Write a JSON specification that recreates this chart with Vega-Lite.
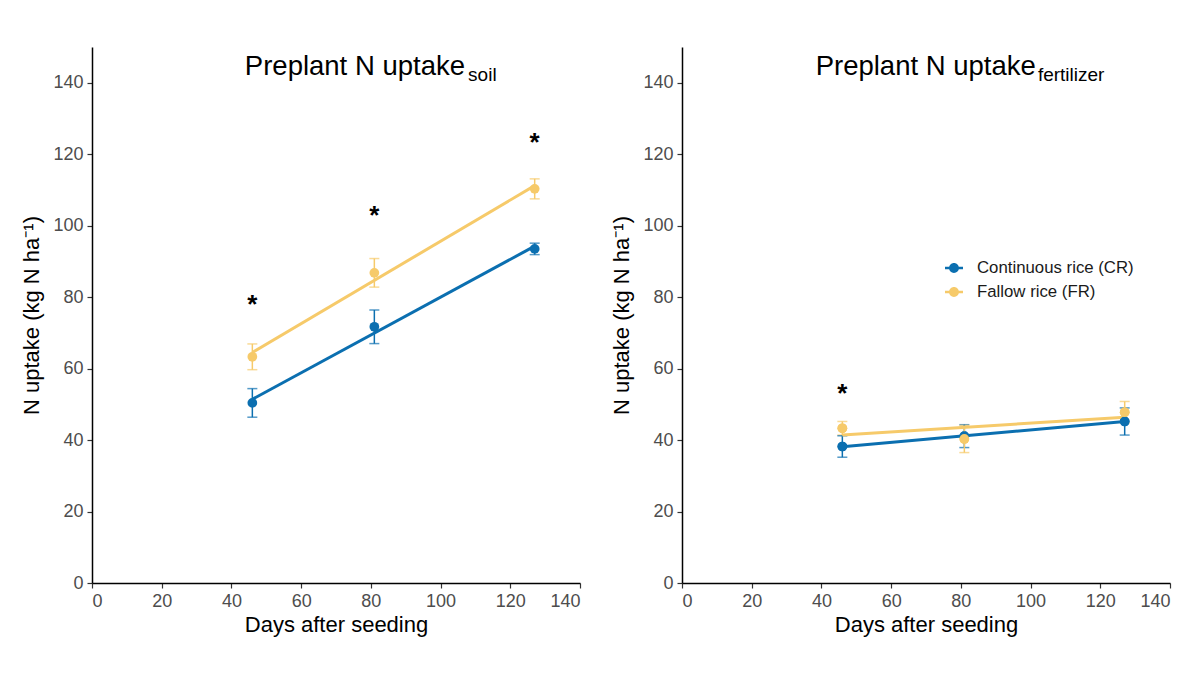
{
  "$schema": "https://vega.github.io/schema/vega-lite/v6.json",
  "background": "white",
  "padding": {"left": 20, "top": 47, "right": 5, "bottom": 5},
  "datasets": {
    "pts": [
      {"panel": "soil", "system": "Continuous rice (CR)", "day": 46, "n": 50.4, "se": 4.0},
      {"panel": "soil", "system": "Continuous rice (CR)", "day": 81, "n": 71.7, "se": 4.7},
      {"panel": "soil", "system": "Continuous rice (CR)", "day": 127, "n": 93.5, "se": 1.6},
      {"panel": "soil", "system": "Fallow rice (FR)", "day": 46, "n": 63.3, "se": 3.6},
      {"panel": "soil", "system": "Fallow rice (FR)", "day": 81, "n": 86.8, "se": 4.0},
      {"panel": "soil", "system": "Fallow rice (FR)", "day": 127, "n": 110.3, "se": 2.8},
      {"panel": "fert", "system": "Continuous rice (CR)", "day": 46, "n": 38.2, "se": 3.0},
      {"panel": "fert", "system": "Continuous rice (CR)", "day": 81, "n": 41.1, "se": 3.2},
      {"panel": "fert", "system": "Continuous rice (CR)", "day": 127, "n": 45.2, "se": 3.8},
      {"panel": "fert", "system": "Fallow rice (FR)", "day": 46, "n": 43.3, "se": 1.9},
      {"panel": "fert", "system": "Fallow rice (FR)", "day": 81, "n": 40.3, "se": 3.8},
      {"panel": "fert", "system": "Fallow rice (FR)", "day": 127, "n": 47.8, "se": 3.0}
    ],
    "stars": [
      {"panel": "soil", "day": 46, "n": 79.8, "label": "*"},
      {"panel": "soil", "day": 81, "n": 104.7, "label": "*"},
      {"panel": "soil", "day": 127, "n": 125.0, "label": "*"},
      {"panel": "fert", "day": 46, "n": 54.9, "label": "*"}
    ]
  },
  "config": {
    "font": "Liberation Sans",
    "view": {"stroke": null},
    "axis": {
      "grid": false,
      "domainColor": "#000000",
      "domainWidth": 1.5,
      "tickColor": "#333333",
      "tickWidth": 1.2,
      "tickSize": 5,
      "labelColor": "#4d4d4d",
      "labelFontSize": 18,
      "labelFont": "Liberation Sans",
      "titleFont": "Liberation Sans",
      "titleFontSize": 22,
      "titleFontWeight": "normal",
      "titleColor": "#000000"
    }
  },
  "spacing": 102,
  "bounds": "flush",
  "resolve": {"scale": {"color": "independent"}, "legend": {"color": "independent"}},
  "hconcat": [
    {
      "width": 488,
      "height": 536,
      "layer": [
        {
          "data": {"name": "pts"},
          "transform": [{"filter": "datum.panel === 'soil'"}],
          "mark": {"type": "errorbar", "ticks": {"size": 10, "thickness": 1.5}, "thickness": 1.5},
          "encoding": {
            "x": {"field": "day", "type": "quantitative", "title": "Days after seeding", "scale": {"domain": [0, 140], "nice": false}, "axis": {"values": [0, 20, 40, 60, 80, 100, 120, 140], "title": "Days after seeding", "titlePadding": 4, "labelPadding": 4}},
            "y": {"field": "n", "type": "quantitative", "title": "N uptake (kg N ha⁻¹)", "scale": {"domain": [0, 150], "nice": false}, "axis": {"values": [0, 20, 40, 60, 80, 100, 120, 140], "title": "N uptake (kg N ha⁻¹)", "titlePadding": 9, "labelPadding": 4}},
            "yError": {"field": "se"},
            "color": {"field": "system", "type": "nominal", "scale": {"domain": ["Continuous rice (CR)", "Fallow rice (FR)"], "range": ["#0b6fb0", "#f6ca6a"]}, "legend": null}
          }
        },
        {
          "data": {"name": "pts"},
          "transform": [
            {"filter": "datum.panel === 'soil'"},
            {"regression": "n", "on": "day", "groupby": ["system"]}
          ],
          "mark": {"type": "line", "strokeWidth": 3},
          "encoding": {
            "x": {"field": "day", "type": "quantitative", "title": "Days after seeding"},
            "y": {"field": "n", "type": "quantitative", "title": "N uptake (kg N ha⁻¹)"},
            "color": {"field": "system", "type": "nominal", "legend": null}
          }
        },
        {
          "data": {"name": "pts"},
          "transform": [{"filter": "datum.panel === 'soil'"}],
          "mark": {"type": "point", "filled": true, "size": 95, "opacity": 1},
          "encoding": {
            "x": {"field": "day", "type": "quantitative", "title": "Days after seeding"},
            "y": {"field": "n", "type": "quantitative", "title": "N uptake (kg N ha⁻¹)"},
            "color": {"field": "system", "type": "nominal", "legend": null}
          }
        },
        {
          "data": {"name": "stars"},
          "transform": [{"filter": "datum.panel === 'soil'"}],
          "mark": {"type": "text", "fontSize": 26, "fontWeight": "bold", "baseline": "alphabetic", "dy": 15, "color": "#000000"},
          "encoding": {
            "x": {"field": "day", "type": "quantitative", "title": "Days after seeding"},
            "y": {"field": "n", "type": "quantitative", "title": "N uptake (kg N ha⁻¹)"},
            "text": {"field": "label"}
          }
        },
        {
          "data": {"values": [{"label": "Preplant N uptake"}]},
          "mark": {"type": "text", "fontSize": 27.5, "align": "right", "baseline": "alphabetic", "color": "#000000"},
          "encoding": {
            "x": {"datum": 107},
            "y": {"datum": 142.1},
            "text": {"field": "label"}
          }
        },
        {
          "data": {"values": [{"label": "soil"}]},
          "mark": {"type": "text", "fontSize": 19, "align": "left", "baseline": "alphabetic", "color": "#000000"},
          "encoding": {
            "x": {"datum": 107.9},
            "y": {"datum": 140.4},
            "text": {"field": "label"}
          }
        }
      ]
    },
    {
      "width": 488,
      "height": 536,
      "layer": [
        {
          "data": {"name": "pts"},
          "transform": [{"filter": "datum.panel === 'fert'"}],
          "mark": {"type": "point", "filled": true, "size": 95, "opacity": 1},
          "encoding": {
            "x": {"field": "day", "type": "quantitative", "title": "Days after seeding", "scale": {"domain": [0, 140], "nice": false}, "axis": {"values": [0, 20, 40, 60, 80, 100, 120, 140], "title": "Days after seeding", "titlePadding": 4, "labelPadding": 4}},
            "y": {"field": "n", "type": "quantitative", "title": "N uptake (kg N ha⁻¹)", "scale": {"domain": [0, 150], "nice": false}, "axis": {"values": [0, 20, 40, 60, 80, 100, 120, 140], "title": "N uptake (kg N ha⁻¹)", "titlePadding": 9, "labelPadding": 4}},
            "color": {
              "field": "system", "type": "nominal",
              "scale": {"domain": ["Continuous rice (CR)", "Fallow rice (FR)"], "range": ["#0b6fb0", "#f6ca6a"]},
              "legend": {
                "orient": "none", "legendX": 263, "legendY": 212, "title": null, "padding": 0,
                "symbolType": "M-1,-0.15H1V0.15H-1Z M-0.55,0A0.55,0.55 0 1,1 0.55,0A0.55,0.55 0 1,1 -0.55,0Z",
                "symbolSize": 324, "symbolStrokeWidth": 0, "symbolOpacity": 1,
                "labelFontSize": 16.8, "labelColor": "#1a1a1a", "labelFont": "Liberation Sans",
                "labelOffset": 14, "rowPadding": 6,
                "encode": {"symbols": {"update": {"opacity": {"value": 1}, "fillOpacity": {"value": 1}}}}
              }
            }
          }
        },
        {
          "data": {"name": "pts"},
          "transform": [{"filter": "datum.panel === 'fert'"}],
          "mark": {"type": "errorbar", "ticks": {"size": 10, "thickness": 1.5}, "thickness": 1.5},
          "encoding": {
            "x": {"field": "day", "type": "quantitative", "title": "Days after seeding"},
            "y": {"field": "n", "type": "quantitative", "title": "N uptake (kg N ha⁻¹)"},
            "yError": {"field": "se"},
            "color": {"field": "system", "type": "nominal"}
          }
        },
        {
          "data": {"name": "pts"},
          "transform": [
            {"filter": "datum.panel === 'fert'"},
            {"regression": "n", "on": "day", "groupby": ["system"]}
          ],
          "mark": {"type": "line", "strokeWidth": 3},
          "encoding": {
            "x": {"field": "day", "type": "quantitative", "title": "Days after seeding"},
            "y": {"field": "n", "type": "quantitative", "title": "N uptake (kg N ha⁻¹)"},
            "color": {"field": "system", "type": "nominal"}
          }
        },
        {
          "data": {"name": "pts"},
          "transform": [{"filter": "datum.panel === 'fert'"}],
          "mark": {"type": "point", "filled": true, "size": 95, "opacity": 1},
          "encoding": {
            "x": {"field": "day", "type": "quantitative", "title": "Days after seeding"},
            "y": {"field": "n", "type": "quantitative", "title": "N uptake (kg N ha⁻¹)"},
            "color": {"field": "system", "type": "nominal"}
          }
        },
        {
          "data": {"name": "stars"},
          "transform": [{"filter": "datum.panel === 'fert'"}],
          "mark": {"type": "text", "fontSize": 26, "fontWeight": "bold", "baseline": "alphabetic", "dy": 15, "color": "#000000"},
          "encoding": {
            "x": {"field": "day", "type": "quantitative", "title": "Days after seeding"},
            "y": {"field": "n", "type": "quantitative", "title": "N uptake (kg N ha⁻¹)"},
            "text": {"field": "label"}
          }
        },
        {
          "data": {"values": [{"label": "Preplant N uptake"}]},
          "mark": {"type": "text", "fontSize": 27.5, "align": "right", "baseline": "alphabetic", "color": "#000000"},
          "encoding": {
            "x": {"datum": 101.5},
            "y": {"datum": 142.1},
            "text": {"field": "label"}
          }
        },
        {
          "data": {"values": [{"label": "fertilizer"}]},
          "mark": {"type": "text", "fontSize": 19, "align": "left", "baseline": "alphabetic", "color": "#000000"},
          "encoding": {
            "x": {"datum": 102.1},
            "y": {"datum": 140.4},
            "text": {"field": "label"}
          }
        }
      ]
    }
  ]
}
